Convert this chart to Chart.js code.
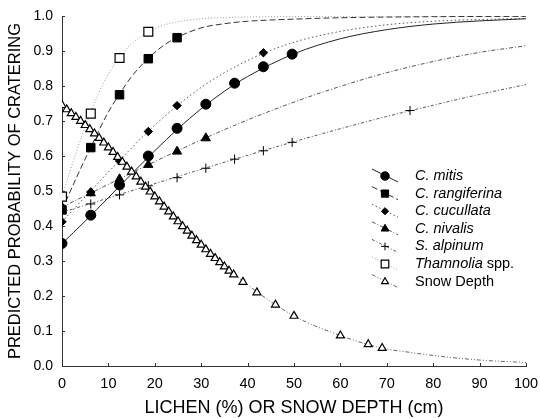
<!DOCTYPE html>
<html><head><meta charset="utf-8">
<script src="https://cdn.jsdelivr.net/npm/chart.js@4/dist/chart.umd.min.js"></script>
<style>html,body{margin:0;padding:0;background:#fff;}#wrap{width:540px;height:419px;position:relative;}</style>
</head><body><div id="wrap"><canvas id="c"></canvas></div>
<script>
// ---- data ----
const seriesNames = ['C. mitis','C. rangiferina','C. cucullata','C. nivalis','S. alpinum','Thamnolia spp.','Snow Depth'];

const mitisX = [0, 6.2, 12.4, 18.6, 24.8, 31, 37.2, 43.4, 49.6];
const mitisY = [0.350, 0.431, 0.517, 0.600, 0.679, 0.748, 0.808, 0.855, 0.891];
const mitisCurveX = [0, 5, 10, 15, 20, 25, 30, 35, 40, 50, 60, 70, 80, 90, 100];
const mitisCurveY = [0.350, 0.414, 0.481, 0.549, 0.615, 0.678, 0.735, 0.785, 0.827, 0.892, 0.935, 0.961, 0.977, 0.986, 0.992];

const rangX = [0, 6.2, 12.4, 18.6, 24.8];
const rangY = [0.446, 0.624, 0.775, 0.878, 0.938];
const rangCurveX = [0, 3, 6.2, 10, 12.4, 15, 18.6, 22, 25, 30, 35, 40, 50, 60, 80, 100];
const rangCurveY = [0.446, 0.535, 0.625, 0.726, 0.777, 0.827, 0.879, 0.917, 0.940, 0.966, 0.978, 0.985, 0.991, 0.995, 0.998, 0.999];

const cucX = [0, 6.2, 12.4, 18.6, 24.8, 43.4];
const cucY = [0.412, 0.497, 0.586, 0.670, 0.744, 0.895];
const cucCurveX = [0, 10, 20, 30, 40, 50, 60, 70, 80, 90, 100];
const cucCurveY = [0.412, 0.554, 0.688, 0.796, 0.873, 0.925, 0.956, 0.975, 0.985, 0.990, 0.993];

const nivX = [0, 6.2, 12.4, 18.6, 24.8, 31];
const nivY = [0.454, 0.494, 0.534, 0.575, 0.613, 0.651];
const nivCurveX = [0, 10, 20, 30, 40, 50, 60, 70, 80, 90, 100];
const nivCurveY = [0.454, 0.519, 0.584, 0.646, 0.703, 0.754, 0.799, 0.838, 0.870, 0.896, 0.915];

const alpX = [0, 6.2, 12.4, 18.6, 24.8, 31, 37.2, 43.4, 49.6, 75];
const alpY = [0.439, 0.463, 0.489, 0.515, 0.538, 0.565, 0.591, 0.615, 0.639, 0.730];
const alpCurveX = [0, 10, 20, 30, 40, 50, 60, 70, 80, 90, 100];
const alpCurveY = [0.439, 0.480, 0.521, 0.562, 0.602, 0.641, 0.678, 0.713, 0.745, 0.776, 0.804];

const thamX = [0, 6.2, 12.4, 18.6];
const thamY = [0.484, 0.721, 0.880, 0.955];
const thamCurveX = [0, 3, 6.2, 9, 12.4, 15, 18.6, 22, 26, 30, 40, 60, 100];
const thamCurveY = [0.484, 0.608, 0.725, 0.810, 0.882, 0.921, 0.955, 0.974, 0.986, 0.992, 0.997, 0.999, 1.000];

const snowX = [0,1,2,3,4,5,6,7,8,9,10,11,12,13,14,15,16,17,18,19,20,21,22,23,24,25,26,27,28,29,30,31,32,33,34,35,36,37,39,42,46,50,60,66,69];
const snowY = [0.745,0.733,0.722,0.711,0.700,0.688,0.676,0.664,0.651,0.638,0.624,0.611,0.597,0.583,0.569,0.555,0.541,0.526,0.512,0.498,0.484,0.470,0.455,0.441,0.427,0.413,0.399,0.386,0.372,0.359,0.346,0.333,0.320,0.308,0.296,0.284,0.272,0.261,0.240,0.210,0.175,0.143,0.087,0.062,0.051];
const snowCurveX = [0, 10, 20, 30, 40, 50, 60, 69, 75, 80, 90, 100];
const snowCurveY = [0.745, 0.624, 0.484, 0.346, 0.232, 0.143, 0.087, 0.051, 0.039, 0.030, 0.017, 0.010];

const xTickValues = [0,10,20,30,40,50,60,70,80,90,100];
const yTickValues = [0,0.1,0.2,0.3,0.4,0.5,0.6,0.7,0.8,0.9,1.0];

// ---- styles ----
const styles = [
  {line:'#222', dash:[], ps:'circle', r:5, fill:'#000'},
  {line:'#333', dash:[6,3], ps:'rect', r:6, fill:'#000'},
  {line:'#555', dash:[1.5,2.5], ps:'rectRot', r:4.2, fill:'#000'},
  {line:'#555', dash:[4,2,1,2], ps:'triangle', r:5.3, fill:'#000'},
  {line:'#555', dash:[3,2,1,2], ps:'cross', r:4.6, fill:'#000'},
  {line:'#999', dash:[1,2], ps:'rect', r:6.3, fill:'#fff'},
  {line:'#666', dash:[4,2,1,2,1,2], ps:'triangle', r:4.6, fill:'#fff'}
];
const pts = (xs, ys) => xs.map((x, i) => ({x, y: ys[i]}));
const markerSets = [pts(mitisX,mitisY), pts(rangX,rangY), pts(cucX,cucY), pts(nivX,nivY), pts(alpX,alpY), pts(thamX,thamY), pts(snowX,snowY)];
const curveSets = [pts(mitisCurveX,mitisCurveY), pts(rangCurveX,rangCurveY), pts(cucCurveX,cucCurveY), pts(nivCurveX,nivCurveY), pts(alpCurveX,alpCurveY), pts(thamCurveX,thamCurveY), pts(snowCurveX,snowCurveY)];

const datasets = [];
curveSets.forEach((d, i) => datasets.push({
  label: seriesNames[i] + ' fit', data: d, showLine: true, pointRadius: 0, pointHoverRadius: 0,
  borderColor: styles[i].line, borderWidth: 1, borderDash: styles[i].dash, fill: false,
  cubicInterpolationMode: 'monotone', order: 20 + i
}));
markerSets.forEach((d, i) => datasets.push({
  label: seriesNames[i], data: d, showLine: false, pointStyle: styles[i].ps, pointRadius: styles[i].r,
  pointBackgroundColor: styles[i].fill, pointBorderColor: '#000', pointBorderWidth: styles[i].fill === '#fff' ? 1.2 : 1,
  order: i === 6 ? 0 : 1 + i
}));

const FONT = '"Liberation Sans", Arial, Helvetica, sans-serif';

function drawMarker(ctx, s, x, y, k) {
  const r = s.r * k;
  ctx.save();
  ctx.setLineDash([]);
  ctx.fillStyle = s.fill; ctx.strokeStyle = '#000'; ctx.lineWidth = s.fill === '#fff' ? 1.2 : 1;
  ctx.beginPath();
  if (s.ps === 'circle') { ctx.arc(x, y, r, 0, Math.PI*2); }
  else if (s.ps === 'rect') { const h = r*Math.SQRT1_2; ctx.rect(x-h, y-h, 2*h, 2*h); }
  else if (s.ps === 'rectRot') { ctx.moveTo(x, y-r); ctx.lineTo(x+r, y); ctx.lineTo(x, y+r); ctx.lineTo(x-r, y); ctx.closePath(); }
  else if (s.ps === 'triangle') { ctx.moveTo(x, y-r); ctx.lineTo(x+r*0.866, y+r*0.5); ctx.lineTo(x-r*0.866, y+r*0.5); ctx.closePath(); }
  if (s.ps === 'cross') { ctx.moveTo(x-r, y); ctx.lineTo(x+r, y); ctx.moveTo(x, y-r); ctx.lineTo(x, y+r); ctx.stroke(); }
  else { ctx.fill(); ctx.stroke(); }
  ctx.restore();
}

const legendPlugin = {
  id: 'customLegend',
  afterDraw(chart) {
    const ctx = chart.ctx;
    const x0 = 372, x1 = 398, mx = 385, tx = 415, y0 = 176, dy = 17.6;
    seriesNames.forEach((name, i) => {
      const s = styles[i], y = y0 + i * dy;
      ctx.save();
      ctx.strokeStyle = s.line; ctx.lineWidth = 1; ctx.setLineDash(s.dash);
      ctx.beginPath(); ctx.moveTo(x0, y - 7); ctx.lineTo(x1, y + 6); ctx.stroke();
      ctx.restore();
      drawMarker(ctx, s, mx, y, 0.85);
      ctx.save();
      ctx.fillStyle = '#000'; ctx.textBaseline = 'middle'; ctx.textAlign = 'left';
      if (i === 5) {
        ctx.font = 'italic 14.5px ' + FONT; ctx.fillText('Thamnolia', tx, y);
        const w = ctx.measureText('Thamnolia').width;
        ctx.font = '14.5px ' + FONT; ctx.fillText(' spp.', tx + w, y);
      } else if (i === 6) {
        ctx.font = '14.5px ' + FONT; ctx.fillText(name, tx, y);
      } else {
        ctx.font = 'italic 14.5px ' + FONT; ctx.fillText(name, tx, y);
      }
      ctx.restore();
    });
  }
};

const tickPlugin = {
  id: 'inTicks',
  afterDraw(chart) {
    const ctx = chart.ctx, xs = chart.scales.x, ys = chart.scales.y, a = chart.chartArea;
    ctx.save(); ctx.strokeStyle = '#333'; ctx.lineWidth = 1; ctx.setLineDash([]);
    ctx.beginPath();
    xTickValues.forEach(v => { const p = Math.round(xs.getPixelForValue(v)) + 0.5; ctx.moveTo(p, a.bottom); ctx.lineTo(p, a.bottom - 3); });
    yTickValues.forEach(v => { const p = Math.round(ys.getPixelForValue(v)) + 0.5; ctx.moveTo(a.left, p); ctx.lineTo(a.left + 3, p); });
    ctx.stroke(); ctx.restore();
  }
};

new Chart(document.getElementById('c'), {
  type: 'scatter',
  data: { datasets },
  options: {
    responsive: true, maintainAspectRatio: false, animation: false,
    layout: { autoPadding: false, padding: { top: 16, right: 14, left: 0, bottom: 0 } },
    plugins: { legend: { display: false }, tooltip: { enabled: false } },
    scales: {
      x: {
        type: 'linear', min: 0, max: 100,
        afterFit(s) { s.height = 53; s.paddingLeft = 0; s.paddingRight = 0; },
        afterBuildTicks(s) { s.ticks = xTickValues.map(v => ({value: v})); },
        grid: { display: true, drawOnChartArea: false, drawTicks: false, color: 'rgba(0,0,0,0)' },
        border: { display: true, color: '#333', width: 1 },
        ticks: { padding: 9, color: '#000', font: { family: FONT, size: 14.5 }, maxRotation: 0, callback: v => String(v) },
        title: { display: true, text: 'LICHEN (%) OR SNOW DEPTH (cm)', color: '#000', font: { family: FONT, size: 18 }, padding: { top: 0, bottom: 0 } }
      },
      y: {
        type: 'linear', min: 0, max: 1,
        afterFit(s) { s.width = 62; s.paddingTop = 0; s.paddingBottom = 0; },
        afterBuildTicks(s) { s.ticks = yTickValues.map(v => ({value: v})); },
        grid: { display: true, drawOnChartArea: false, drawTicks: false, color: 'rgba(0,0,0,0)' },
        border: { display: true, color: '#333', width: 1 },
        ticks: { padding: 9, color: '#000', font: { family: FONT, size: 14 }, callback: v => Number(v).toFixed(1) },
        title: { display: true, text: 'PREDICTED PROBABILITY OF CRATERING', color: '#000', font: { family: FONT, size: 16.5 }, padding: { top: 6, bottom: 0 } }
      }
    }
  },
  plugins: [tickPlugin, legendPlugin]
});
</script>
</body></html>
